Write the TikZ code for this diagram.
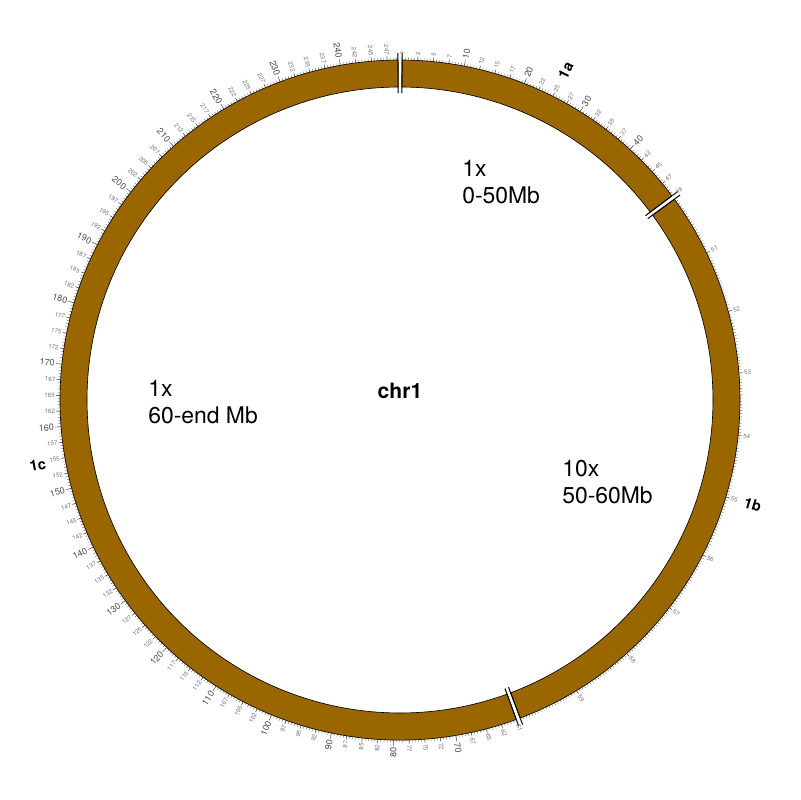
\documentclass[tikz,border=0pt]{standalone}
\usepackage{fontspec}
\setmainfont{TeX Gyre Heros}
\usepackage{tikz}
\definecolor{chrbrown}{RGB}{153,102,0}
\tikzset{
  band/.style={fill=chrbrown, draw=black, line width=0.45pt},
  brk/.style={draw=black, line width=0.7pt, line cap=butt},
  minortick/.style={draw=black!75, line width=0.2pt},
  majortick/.style={draw=black!75, line width=0.3pt},
  smalllab/.style={font=\fontsize{4.4}{5}\selectfont, text=black!55, inner sep=0pt},
  biglab/.style={font=\fontsize{6.4}{7}\selectfont, text=black!70, inner sep=0pt},
  seglab/.style={font=\fontsize{10.5}{12}\bfseries, inner sep=0pt},
  zoomlab/.style={font=\fontsize{16.3}{19.2}\selectfont, align=left, inner sep=0pt, anchor=north west},
  chrlab/.style={font=\fontsize{15}{18}\bfseries, inner sep=0pt, anchor=base}
}
% degrees per displayed Mb, segment starts (clockwise from top)
\newcommand{\uu}{1.055}
\newcommand{\segA}{0.35}
\newcommand{\segB}{53.8}
\newcommand{\segC}{160.0}
% radial label, flipped on the left half
\newcommand{\radlabel}[5]{%
  \pgfmathsetmacro{\rlc}{cos(#2)}%
  \pgfmathsetmacro{\rlr}{#2}%
  \ifdim\rlc pt<-0.001pt
    \pgfmathsetmacro{\rlr}{#2+180}%
    \node[#4, rotate=\rlr, anchor=east] (#1) at (#2:#3) {#5};
  \else
    \node[#4, rotate=\rlr, anchor=west] (#1) at (#2:#3) {#5};
  \fi}
% one ring segment between two clockwise angles
\newcommand{\ringseg}[2]{%
  \pgfmathsetmacro{\rsa}{90-#1}%
  \pgfmathsetmacro{\rsb}{90-#2}%
  \draw[band] (\rsa:340) arc[start angle=\rsa, end angle=\rsb, radius=340]
    -- (\rsb:313) arc[start angle=\rsb, end angle=\rsa, radius=313] -- cycle;
  \draw[brk] (\rsa:307) -- (\rsa:347);
  \draw[brk] (\rsb:307) -- (\rsb:347);
}

\begin{document}
\begin{tikzpicture}[x=0.025cm, y=0.025cm]
  \useasboundingbox (-400,-400) rectangle (400,400);

  % Ring
  \ringseg{\segA}{53.1}
  \ringseg{\segB}{159.3}
  \ringseg{\segC}{359.66}

  % Minor ticks
  \foreach \k in {0,...,100} {
    \pgfmathsetmacro{\th}{90-(\segA+0.5*\k*\uu)}
    \draw[minortick] (\th:340) -- (\th:342.5);
  }
  \foreach \k in {0,...,200} {
    \pgfmathsetmacro{\th}{90-(\segB+0.5*\k*\uu)}
    \draw[minortick] (\th:340) -- (\th:342.5);
  }
  \foreach \k in {0,...,378} {
    \pgfmathsetmacro{\th}{90-(\segC+0.5*\k*\uu)}
    \draw[minortick] (\th:340) -- (\th:342.5);
  }

  % Labelled ticks, 1a
  \foreach \k in {0,...,20} {
    \pgfmathsetmacro{\th}{90-(\segA+2.5*\k*\uu)}
    \pgfmathtruncatemacro{\lab}{floor(2.5*\k)}
    \pgfmathtruncatemacro{\isbig}{and(mod(\k,4)==0, and(\k>0, \k<20))}
    \ifnum\k=0 \def\lab{1}\fi
    \ifnum\k=20 \def\lab{49}\fi
    \ifnum\isbig=1
      \draw[majortick] (\th:340) -- (\th:346);
      \radlabel{ta\k}{\th}{347}{biglab}{\lab}
    \else
      \draw[majortick] (\th:340) -- (\th:344);
      \radlabel{ta\k}{\th}{345}{smalllab}{\lab}
    \fi
  }
  % Labelled ticks, 1b
  \foreach \k in {1,...,9} {
    \pgfmathsetmacro{\th}{90-(\segB+10*\k*\uu)}
    \pgfmathtruncatemacro{\lab}{50+\k}
    \draw[majortick] (\th:340) -- (\th:344);
    \radlabel{tb\k}{\th}{345}{smalllab}{\lab}
  }
  % Labelled ticks, 1c
  \foreach \k in {0,...,75} {
    \pgfmathsetmacro{\th}{90-(\segC+2.5*\k*\uu)}
    \pgfmathtruncatemacro{\lab}{floor(60+2.5*\k)}
    \pgfmathtruncatemacro{\isbig}{and(mod(\k,4)==0, \k>0)}
    \ifnum\k=0 \def\lab{61}\fi
    \ifnum\isbig=1
      \draw[majortick] (\th:340) -- (\th:346);
      \radlabel{tc\k}{\th}{347}{biglab}{\lab}
    \else
      \draw[majortick] (\th:340) -- (\th:344);
      \radlabel{tc\k}{\th}{345}{smalllab}{\lab}
    \fi
  }

  % Segment names
  \node[seglab, rotate=63.3] (ida) at (63.3:369) {1a};
  \node[seglab, rotate=-16.55] (idb) at (-16.55:368) {1b};
  \node[seglab, rotate=10.2] (idc) at (-169.8:368) {1c};

  % Zoom infos
  \node[chrlab] (chr) at (0,1) {chr1};
  \node[zoomlab] (za) at (62,240) {1x\\0-50Mb};
  \node[zoomlab] (zc) at (-252,20) {1x\\60-end Mb};
  \node[zoomlab] (zb) at (162,-60) {10x\\50-60Mb};
\end{tikzpicture}
\end{document}
